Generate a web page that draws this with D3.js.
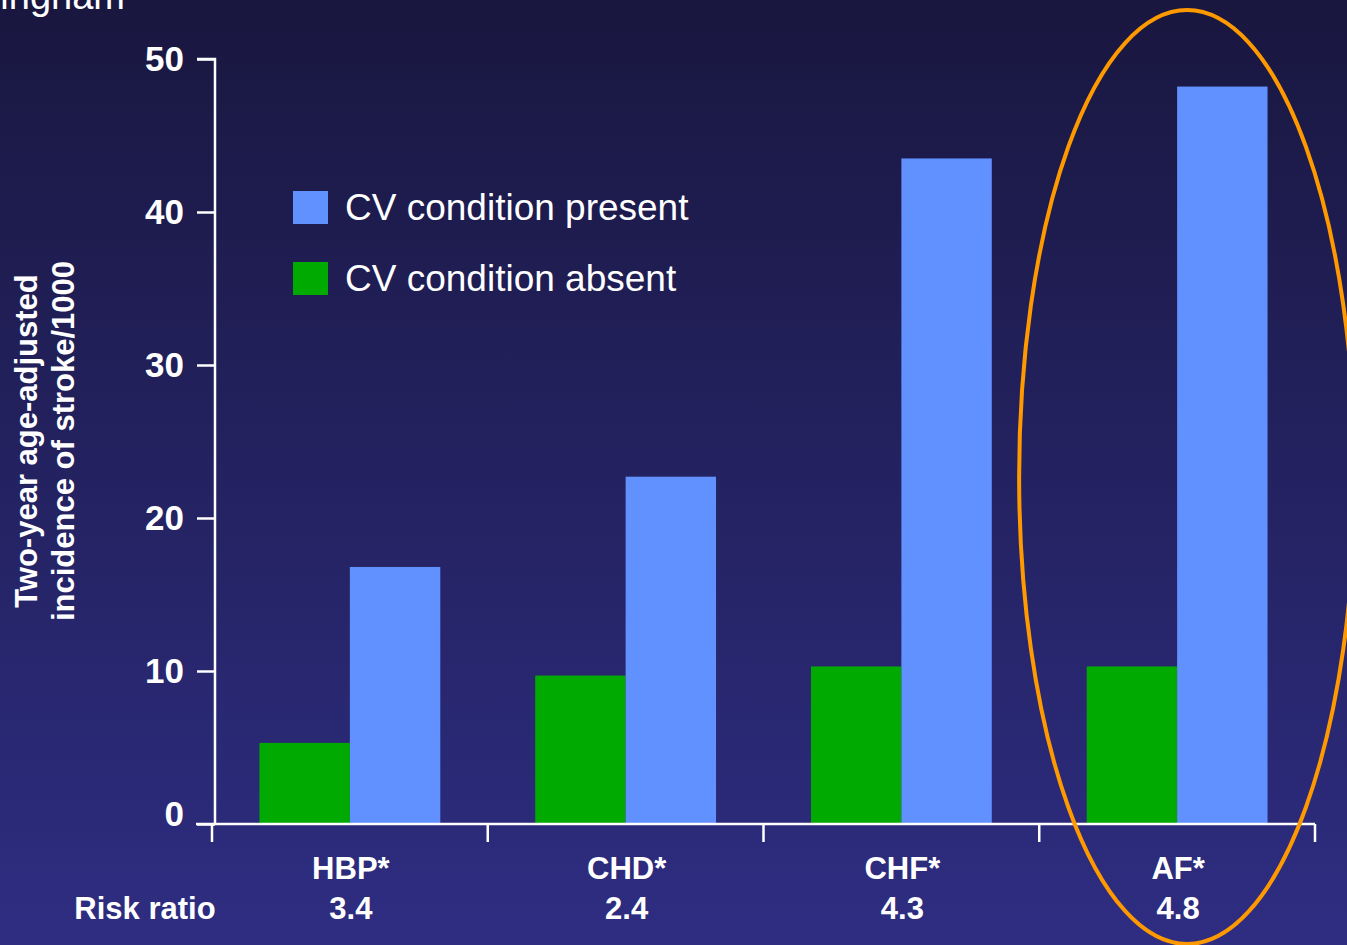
<!DOCTYPE html>
<html>
<head>
<meta charset="utf-8">
<script src="https://cdn.jsdelivr.net/npm/d3@7"></script>
<style>
  body { margin: 0; overflow: hidden; }
  text { font-family: Arial, "Liberation Sans", sans-serif; fill: #fff; }
</style>
</head>
<body>
<script>
// chart data
const categories = ["HBP*", "CHD*", "CHF*", "AF*"];
const riskRatios = ["3.4", "2.4", "4.3", "4.8"];
const absentValues = [5.3, 9.7, 10.3, 10.3];
const presentValues = [16.8, 22.7, 43.5, 48.2];
const yTicks = [0, 10, 20, 30, 40, 50];
const seriesNames = ["CV condition absent", "CV condition present"];
const seriesColors = ["#00aa00", "#6190ff"];

const W = 1347, H = 945;

const svg = d3.select("body")
  .append("svg")
  .attr("width", W)
  .attr("height", H);

// background gradient
const grad = svg.append("defs").append("linearGradient")
  .attr("id", "bg")
  .attr("x1", 0).attr("y1", 0).attr("x2", 0).attr("y2", 1);
grad.append("stop").attr("offset", "0%").attr("stop-color", "#19173f");
grad.append("stop").attr("offset", "100%").attr("stop-color", "#2e2d82");
svg.append("rect").attr("width", W).attr("height", H).attr("fill", "url(#bg)");

// title, mostly off the top edge like in the slide
svg.append("text")
  .attr("x", 125).attr("y", 9)
  .attr("text-anchor", "end")
  .style("font-size", "38px")
  .text("Framingham");

// scales
const x0 = d3.scaleBand()
  .domain(categories)
  .range([212, 1315]);
const x1 = d3.scaleBand()
  .domain(seriesNames)
  .range([0, x0.bandwidth()])
  .paddingOuter(0.525);
const y = d3.scaleLinear()
  .domain([0, 50])
  .range([824, 59]);

// bars
const rows = categories.map((c, i) => ({ cat: c, vals: [absentValues[i], presentValues[i]] }));
const groups = svg.selectAll("g.cat")
  .data(rows)
  .enter().append("g")
  .attr("class", "cat")
  .attr("transform", d => "translate(" + x0(d.cat) + ",0)");
groups.selectAll("rect")
  .data(d => d.vals.map((v, j) => ({ name: seriesNames[j], v: v, color: seriesColors[j] })))
  .enter().append("rect")
  .attr("x", d => x1(d.name))
  .attr("width", x1.bandwidth())
  .attr("y", d => y(d.v))
  .attr("height", d => y(0) - y(d.v))
  .attr("fill", d => d.color);

// y axis
const yAxis = d3.axisLeft(y)
  .tickValues(yTicks)
  .tickSize(18)
  .tickPadding(13);
const yg = svg.append("g")
  .attr("transform", "translate(215,0)")
  .call(yAxis);
yg.select(".domain").attr("stroke", "#fff").attr("stroke-width", 2.5)
  .attr("d", "M-18," + y(50) + "H0V" + y(0));
yg.selectAll(".tick line").attr("stroke", "#fff").attr("stroke-width", 2.5);
yg.selectAll(".tick text")
  .attr("fill", "#fff")
  .attr("dy", d => d === 0 ? "0.05em" : "0.32em")
  .style("font-size", "35px")
  .style("font-weight", "bold")
  .style("font-family", "Arial, 'Liberation Sans', sans-serif");

// x axis
const xg = svg.append("g").attr("transform", "translate(0," + y(0) + ")");
xg.append("line")
  .attr("x1", 196).attr("x2", 1315)
  .attr("stroke", "#fff").attr("stroke-width", 2.5);
const xTicks = categories.map(c => x0(c)).concat([x0.range()[1]]);
xg.selectAll("line.xt")
  .data(xTicks)
  .enter().append("line")
  .attr("class", "xt")
  .attr("x1", d => d).attr("x2", d => d)
  .attr("y1", 0).attr("y2", 18)
  .attr("stroke", "#fff").attr("stroke-width", 2.5);

// category labels and risk ratios
svg.selectAll("text.cat")
  .data(categories)
  .enter().append("text")
  .attr("class", "cat")
  .attr("x", d => x0(d) + x0.bandwidth() / 2 + 1)
  .attr("y", 879)
  .attr("text-anchor", "middle")
  .style("font-size", "31px")
  .style("font-weight", "bold")
  .text(d => d);
svg.selectAll("text.rr")
  .data(riskRatios)
  .enter().append("text")
  .attr("class", "rr")
  .attr("x", (d, i) => x0(categories[i]) + x0.bandwidth() / 2 + 1)
  .attr("y", 919)
  .attr("text-anchor", "middle")
  .style("font-size", "31px")
  .style("font-weight", "bold")
  .text(d => d);
svg.append("text")
  .attr("x", 145).attr("y", 919)
  .attr("text-anchor", "middle")
  .style("font-size", "31px")
  .style("font-weight", "bold")
  .text("Risk ratio");

// y axis title
const yt = svg.append("text")
  .attr("transform", "translate(0,441) rotate(-90)")
  .attr("text-anchor", "middle")
  .style("font-size", "31px")
  .style("font-weight", "bold");
yt.append("tspan").attr("x", 0).attr("y", 37).text("Two-year age-adjusted");
yt.append("tspan").attr("x", 0).attr("y", 74).text("incidence of stroke/1000");

// legend
const legendItems = [
  { name: "CV condition present", color: seriesColors[1], y: 191 },
  { name: "CV condition absent", color: seriesColors[0], y: 262 }
];
const lg = svg.selectAll("g.leg")
  .data(legendItems)
  .enter().append("g")
  .attr("class", "leg")
  .attr("transform", d => "translate(293," + d.y + ")");
lg.append("rect")
  .attr("width", 35).attr("height", 33)
  .attr("fill", d => d.color);
lg.append("text")
  .attr("x", 52).attr("y", 29)
  .style("font-size", "37px")
  .text(d => d.name);

// highlight ellipse around AF
svg.append("ellipse")
  .attr("cx", x0("AF*") + x0.bandwidth() / 2 + 10)
  .attr("cy", 477)
  .attr("rx", 168)
  .attr("ry", 467)
  .attr("fill", "none")
  .attr("stroke", "#ff9900")
  .attr("stroke-width", 4);
</script>
</body>
</html>
